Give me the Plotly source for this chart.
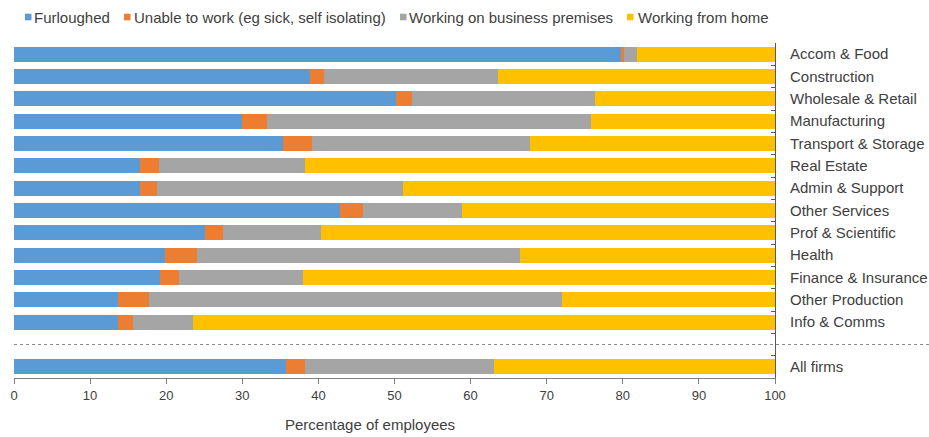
import plotly.graph_objects as go

categories = ["Accom & Food", "Construction", "Wholesale & Retail", "Manufacturing",
              "Transport & Storage", "Real Estate", "Admin & Support", "Other Services",
              "Prof & Scientific", "Health", "Finance & Insurance", "Other Production",
              "Info & Comms", " ", "All firms"]

furloughed = [79.7, 38.9, 50.2, 30.0, 35.4, 16.5, 16.5, 42.8, 25.1, 19.9, 19.2, 13.7, 13.7, None, 35.8]
unable     = [0.5, 1.8, 2.1, 3.3, 3.7, 2.6, 2.3, 3.1, 2.3, 4.2, 2.5, 4.1, 1.9, None, 2.4]
premises   = [1.7, 22.9, 24.0, 42.5, 28.7, 19.2, 32.3, 13.0, 13.0, 42.4, 16.3, 54.2, 7.9, None, 24.9]
home       = [18.1, 36.4, 23.7, 24.2, 32.2, 61.7, 48.9, 41.1, 59.6, 33.5, 62.0, 28.0, 76.5, None, 36.9]

series_names = ["Furloughed", "Unable to work (eg sick, self isolating)",
                "Working on business premises", "Working from home"]
series_values = [furloughed, unable, premises, home]
colors = ["#5B9BD5", "#ED7D31", "#A5A5A5", "#FFC000"]

x_ticks = [0, 10, 20, 30, 40, 50, 60, 70, 80, 90, 100]
x_title = "Percentage of employees"

font_family = "Liberation Sans, Arial, sans-serif"
text_color = "#404040"

W, H = 929, 437
ML, MR, MT, MB = 14, 154, 43, 59
PW, PH = W - ML - MR, H - MT - MB


def px_x(px):
    return (px - ML) / PW


def px_y(py):
    return (H - MB - py) / PH


fig = go.Figure()
for name, vals, col in zip(series_names, series_values, colors):
    fig.add_trace(go.Bar(
        y=categories, x=vals, name=name, orientation="h",
        marker=dict(color=col, line=dict(width=0)), showlegend=False,
    ))

fig.update_layout(
    barmode="stack",
    bargap=0.33,
    width=W, height=H, autosize=False,
    margin=dict(l=ML, r=MR, t=MT, b=MB, autoexpand=False),
    paper_bgcolor="white", plot_bgcolor="white",
    font=dict(family=font_family, size=15, color=text_color),
    xaxis=dict(range=[0, 100], tickvals=x_ticks, showgrid=False, zeroline=False,
               showline=True, linecolor="#7F7F7F", linewidth=1,
               ticks="outside", ticklen=5, tickcolor="#7F7F7F",
               tickfont=dict(size=13, color=text_color)),
    yaxis=dict(side="right", autorange="reversed", showgrid=False, zeroline=False,
               showline=True, linecolor="#595959", linewidth=1,
               ticks="inside", ticklen=4, tickcolor="#595959", tickson="boundaries",
               ticklabelstandoff=11,
               tickfont=dict(size=15, color=text_color)),
)

# x-axis title (offset left of plot centre as in the reference)
fig.add_annotation(text=x_title, xref="paper", yref="paper", x=px_x(370), y=px_y(424),
                   xanchor="center", yanchor="middle", showarrow=False, borderpad=0,
                   font=dict(size=15, color=text_color))

# legend drawn as coloured squares + text
legend_sq_x = [25, 124, 400, 627]
legend_tx_x = [33, 133, 408, 637]
legend_y = 17
for name, col, sx, tx in zip(series_names, colors, legend_sq_x, legend_tx_x):
    fig.add_shape(type="rect", xref="paper", yref="paper",
                  x0=px_x(sx), x1=px_x(sx + 6.5), y0=px_y(legend_y + 3.3), y1=px_y(legend_y - 3.3),
                  fillcolor=col, line=dict(width=0))
    fig.add_annotation(text=name, xref="paper", yref="paper", x=px_x(tx), y=px_y(legend_y),
                       xanchor="left", yanchor="middle", showarrow=False, borderpad=0,
                       font=dict(size=15, color=text_color))

# dotted separator line across the blank row
fig.add_shape(type="line", xref="paper", yref="y", x0=0, x1=(W - ML) / PW,
              y0=13, y1=13, line=dict(color="#8C8C8C", width=1, dash="dot"))

fig.write_html("out.html", config={"displayModeBar": False},
               post_script="document.body.style.margin='0';document.body.style.overflow='hidden';")
